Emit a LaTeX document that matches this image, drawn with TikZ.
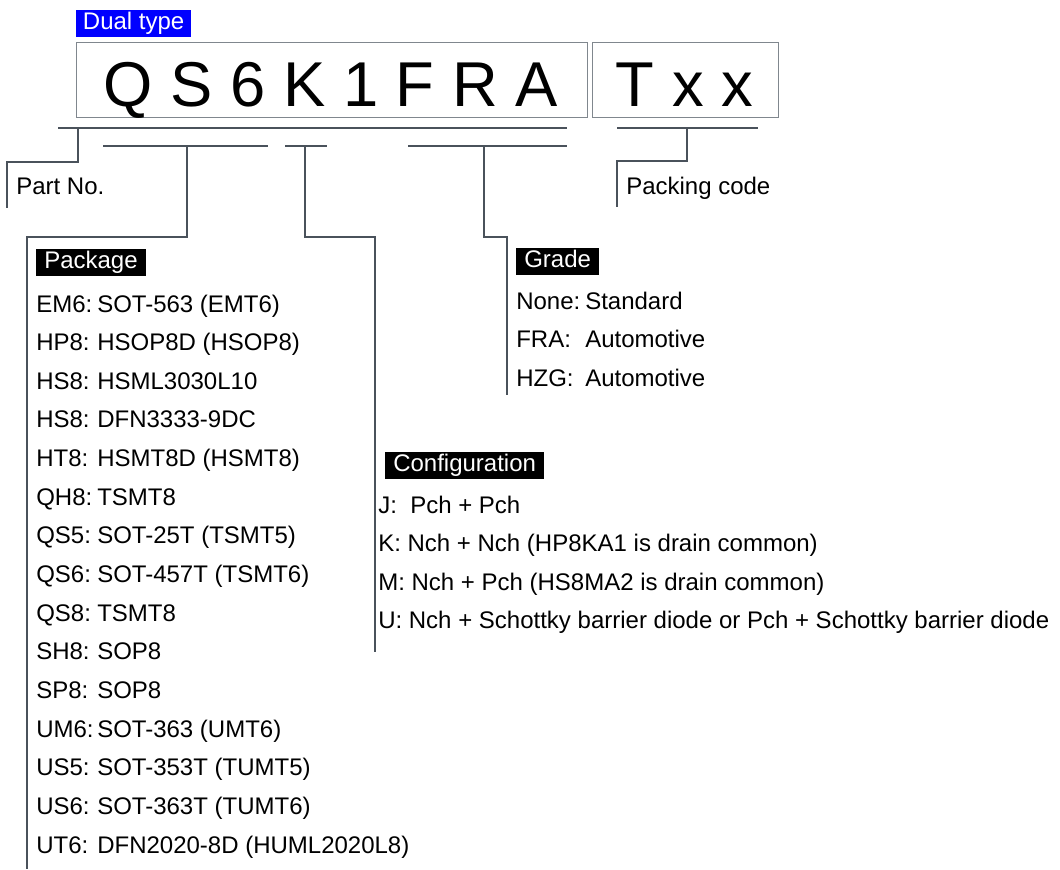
\documentclass[tikz,border=0pt]{standalone}
\usepackage{fontspec}
\setmainfont{Liberation Sans}
\usepackage{tikz}
\usetikzlibrary{positioning, calc}
\definecolor{royal}{HTML}{0000FF}
\definecolor{slate}{HTML}{4A525B}
\definecolor{frame}{HTML}{80878E}

\begin{document}
\begin{tikzpicture}[
  x=0.75pt, y=-0.75pt,
  every node/.style={font=\fontsize{18}{20}\selectfont, inner sep=0pt},
  bar/.style={draw=slate, line width=2pt},
  lead/.style={draw=slate, line width=2pt},
  tag/.style={fill=black, text=white, anchor=west, inner xsep=6pt,
    minimum height=20.25pt, text height=13pt, text depth=4pt},
  key/.style={anchor=base west},
  big/.style={font=\fontsize{47.5}{50}\selectfont, anchor=base west},
  codebox/.style={draw=frame, line width=1pt, anchor=north west, minimum height=56.25pt}
]
\useasboundingbox (0,0) rectangle (1060,869);

% Part number
\node[tag, fill=royal, inner xsep=5pt] (dual) at (76,23.5) {Dual type};
\node[codebox, minimum width=383.25pt] (pnbox) at (76,42) {};
\node[codebox, minimum width=139.5pt] (pcbox) at (592,42) {};
\node[big] (pn) at (103.5,106) {Q S 6 K 1 F R A};
\node[big] (pc) at (615.5,106) {T x x};

% Bars under the code
\coordinate (b1l) at (58,128);   \coordinate (b1r) at (567,128);
\coordinate (b2l) at (103,146);  \coordinate (b2r) at (268,146);
\coordinate (b3l) at (285,146);  \coordinate (b3r) at (327,146);
\coordinate (b4l) at (408,146);  \coordinate (b4r) at (567,146);
\coordinate (b5l) at (617,128);  \coordinate (b5r) at (758,128);
\foreach \b in {1,...,5} \draw[bar] (b\b l) -- (b\b r);

% Leads
\coordinate (partend) at (7,208);
\coordinate (pkgend) at (27,869);
\coordinate (cfgend) at (375,652);
\coordinate (grdend) at (507,395);
\coordinate (packend) at (617,207);
\draw[lead] (78,128) -- (78,162) -- (7,162) -- (partend);
\draw[lead] (187,146) -- (187,237) -- (27,237) -- (pkgend);
\draw[lead] (305,146) -- (305,237) -- (375,237) -- (cfgend);
\draw[lead] (484,146) -- (484,237) -- (507,237) -- (grdend);
\draw[lead] (687,128) -- (687,161) -- (617,161) -- (packend);

% Labels
\node[key] (partno) at (16,194) {Part No.};
\node[key] (packing) at (626,194) {Packing code};

% Package
\node[tag] (package) at (36,262.5) {Package\ };
\foreach \k/\v [count=\i from 0] in {EM6/SOT-563 (EMT6), HP8/HSOP8D (HSOP8),
    HS8/HSML3030L10, HS8/DFN3333-9DC, HT8/HSMT8D (HSMT8), QH8/TSMT8,
    QS5/SOT-25T (TSMT5), QS6/SOT-457T (TSMT6), QS8/TSMT8, SH8/SOP8, SP8/SOP8,
    UM6/SOT-363 (UMT6), US5/SOT-353T (TUMT5), US6/SOT-363T (TUMT6),
    UT6/DFN2020-8D (HUML2020L8)} {
  \node[key] (pk\i) at (36,312+38.66*\i) {\k:};
  \node[key] (pv\i) at (97,312+38.66*\i) {\v};
}

% Grade
\node[tag] (grade) at (516,261) {Grade\ };
\foreach \k/\v [count=\i from 0] in {None/Standard, FRA/Automotive, HZG/Automotive} {
  \node[key] (gk\i) at (516,309+38.66*\i) {\k:};
  \node[key] (gv\i) at (585,309+38.66*\i) {\v};
}

% Configuration
\node[tag] (config) at (385,465.5) {Configuration\ };
\foreach \t [count=\i from 0] in {J:\ \ Pch + Pch,
    K: Nch + Nch (HP8KA1 is drain common),
    M: Nch + Pch (HS8MA2 is drain common),
    U: Nch + Schottky barrier diode or Pch + Schottky barrier diode} {
  \node[key] (c\i) at (378,513+38.66*\i) {\t};
}

\end{tikzpicture}
\end{document}
